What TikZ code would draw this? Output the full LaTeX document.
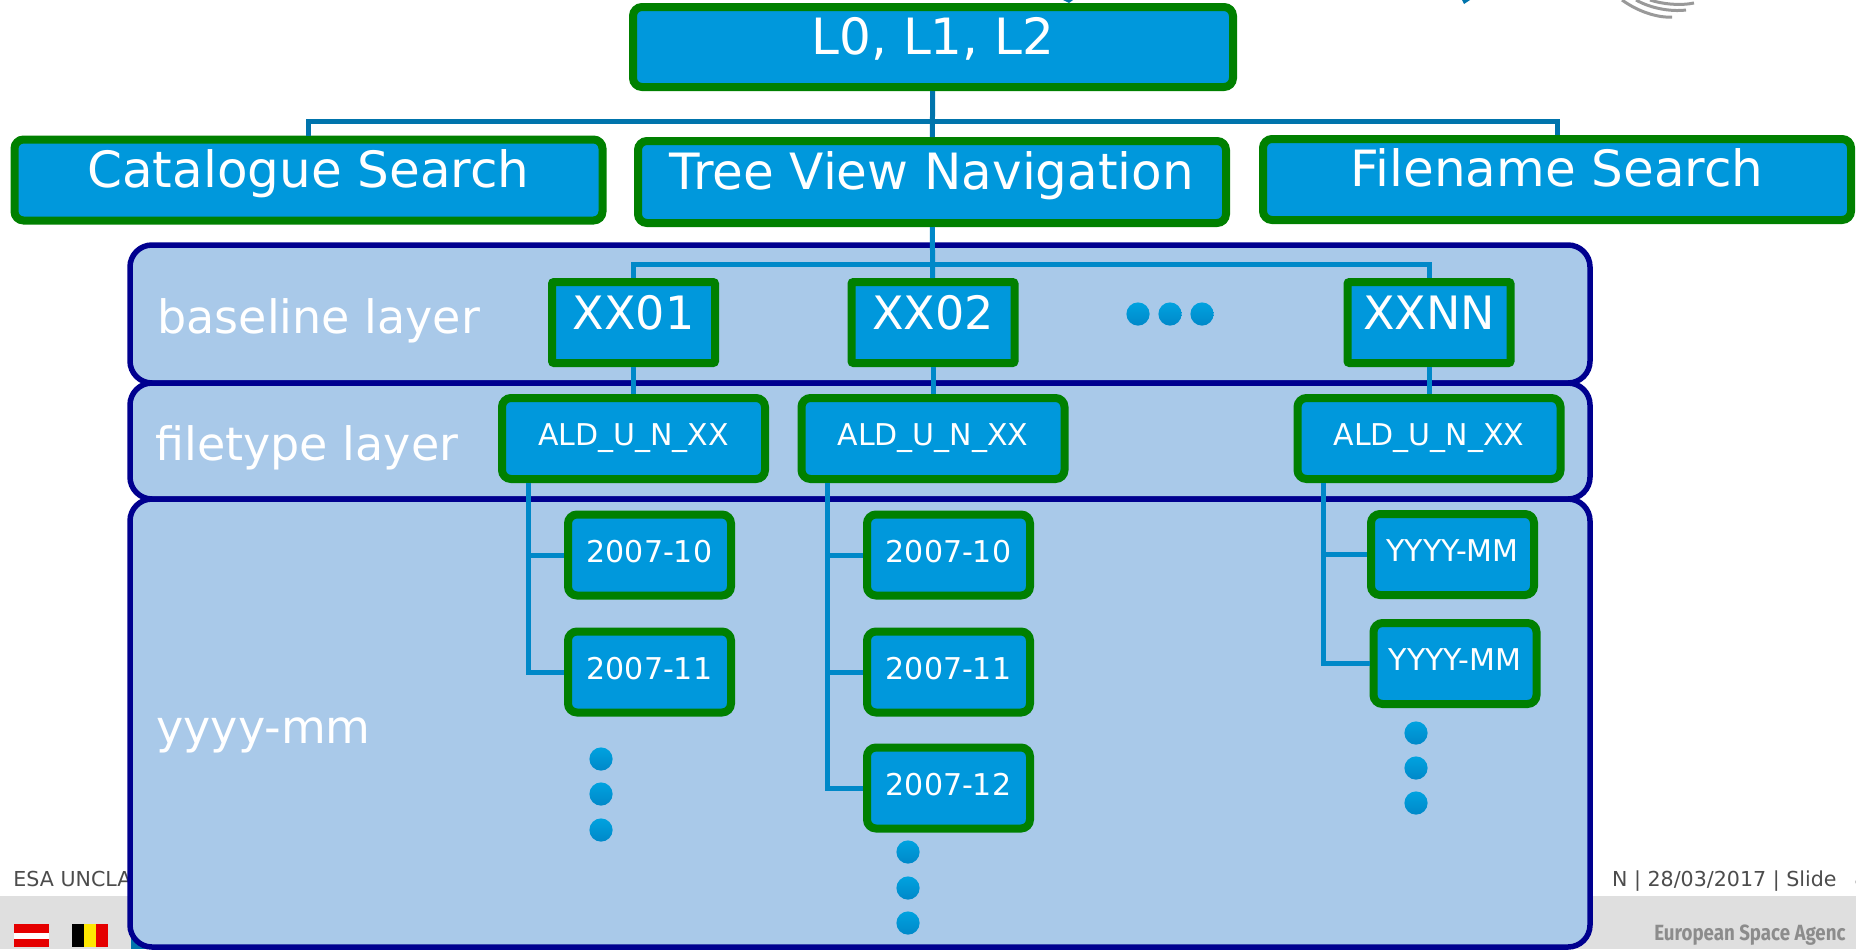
\documentclass[tikz,border=0pt]{standalone}
\usepackage{fontspec}
\setmainfont{DejaVu Sans}
\newfontfamily\agencyfont[FakeStretch=0.85]{Fira Sans}
\usetikzlibrary{shadows,positioning}
\definecolor{boxblue}{HTML}{0098DC}
\definecolor{boxgreen}{HTML}{008000}
\definecolor{layerblue}{HTML}{A9C9E9}
\definecolor{layerline}{HTML}{00008F}
\definecolor{linkdark}{HTML}{0074AC}
\definecolor{linkblue}{HTML}{0088C8}
\definecolor{footgrey}{HTML}{DFDFDF}
\begin{document}
\begin{tikzpicture}[x=0.5pt,y=-0.5pt,
        box/.style={draw=boxgreen,line width=4pt,fill=boxblue,text=white,rounded corners=4.5pt,inner sep=0pt,
        text height=0.73em,text depth=0pt,drop shadow={shadow xshift=1pt,shadow yshift=-1.5pt,opacity=.3,fill=black}},
        topbox/.style={box,minimum width=294pt,minimum height=40.5pt,font=\fontsize{25}{25}\selectfont},
        codebox/.style={box,rounded corners=1pt,minimum width=81.5pt,minimum height=40.5pt,font=\fontsize{23}{23}\selectfont},
        typebox/.style={box,minimum width=131.5pt,minimum height=40.5pt,font=\fontsize{15}{15}\selectfont},
        datebox/.style={box,minimum width=81.5pt,minimum height=40.5pt,font=\fontsize{15}{15}\selectfont},
        layerbox/.style={draw=layerline,line width=2.75pt,fill=layerblue,rounded corners=11pt,inner sep=0pt,minimum width=730pt},
        layertext/.style={anchor=base west,text=white,inner sep=0pt,font=\fontsize{23}{23}\selectfont},
        foottext/.style={text=black!70,inner sep=0pt,font=\fontsize{10.3}{10.3}\selectfont},
        link/.style={draw=linkblue,line width=2.5pt},
        toplink/.style={draw=linkdark,line width=2.5pt},
        dotmark/.style={circle,inner sep=0pt,minimum size=11.6pt,top color=boxblue!90!cyan,bottom color=linkblue}]

        \clip (0,0) rectangle (1856,949);
        % Slide footer
        \fill[footgrey] (0,896) rectangle (1856,949);
        \node[foottext,anchor=base west] (esa) at (13,886) {ESA UNCLA};
        \node[foottext,anchor=base east] (slide) at (1837,886) {N | 28/03/2017 | Slide};
        \node[foottext,anchor=base west] (slidenum) at (1854,886) {8};
        \node[anchor=base west,inner sep=0pt,text=black!45,font=\agencyfont\bfseries\fontsize{11}{11}\selectfont] (agency) at (1654,940) {European Space Agenc};
        % Flags
        \fill[red!90!black] (14,924) rectangle (49,947);
        \fill[white] (14,933) rectangle (49,939);
        \fill[black] (72,924) rectangle (84,947);
        \fill[yellow!90!orange] (84,924) rectangle (96,947);
        \fill[red!90!black] (96,924) rectangle (108,947);
        \fill[linkdark] (131,924) rectangle (166,949);
        % Logo pieces
        \fill[linkdark] (1063,0) -- (1073,0) -- (1069,3) -- cycle;
        \fill[linkdark] (1462,0) -- (1470,0) -- (1464,4) -- cycle;
        \draw[black!40,line width=1.5pt] (1622,0) .. controls (1640,13) and (1660,18) .. (1672,17);
        \draw[black!40,line width=1.5pt] (1636,0) .. controls (1650,8) and (1670,12) .. (1686,10);
        \draw[black!40,line width=1.5pt] (1650,0) .. controls (1662,4) and (1680,6) .. (1694,3);

        % Layers
        \node[layerbox,minimum height=69pt] (base) at (860,314) {};
        \node[layerbox,minimum height=58pt] (types) at (860,441) {};
        \node[layerbox,minimum height=224pt] (months) at (860,723) {};
        \node[layertext] (basetext) at (157,333) {baseline layer};
        \node[layertext] (typestext) at (155,460) {filetype layer};
        \node[layertext] (monthstext) at (156,743) {yyyy-mm};

        % Top boxes
        \node[topbox,minimum width=300pt,minimum height=40pt] (levels) at (933,47) {L0, L1, L2};
        \node[topbox] (catalogue) at (308.5,180) {Catalogue Search};
        \node[topbox,minimum height=41pt] (tree) at (932,182) {Tree View Navigation};
        \node[topbox] (filename) at (1557,179.5) {Filename Search};

        % Baselines
        \node[codebox] (xx1) at (633.5,322.5) {XX01};
        \node[codebox] (xx2) at (933,322.5) {XX02};
        \node[codebox] (xxn) at (1429,322.5) {XXNN};
        % Filetypes
        \node[typebox] (ald1) at (633.5,438.5) {ALD\_U\_N\_XX};
        \node[typebox] (ald2) at (933,438.5) {ALD\_U\_N\_XX};
        \node[typebox] (ald3) at (1429,438.5) {ALD\_U\_N\_XX};
        % Months
        \node[datebox] (d11) at (649.5,555) {2007-10};
        \node[datebox] (d12) at (649.5,672) {2007-11};
        \node[datebox] (d21) at (948.5,555) {2007-10};
        \node[datebox] (d22) at (948.5,672) {2007-11};
        \node[datebox] (d23) at (948.5,788) {2007-12};
        \node[datebox] (d31) at (1452.5,554.5) {YYYY-MM};
        \node[datebox] (d32) at (1455,663.5) {YYYY-MM};

        % Dots
        \node[dotmark] (h1) at (1138,314) {};
        \node[dotmark] (h2) at (1170,314) {};
        \node[dotmark] (h3) at (1202,314) {};
        \foreach \dx/\dy/\dname in {601/759/a,601/794/b,601/830/c,908/852/d,908/888/e,908/923/f,1416/733/g,1416/768/h,1416/803/i}
          \node[dotmark] (v\dname) at (\dx,\dy) {};

        % Links
        \coordinate (bus1) at (933,121);
        \coordinate (bus2) at (933,264);
        \draw[toplink] (levels) -- (tree);
        \draw[toplink] (catalogue.north) |- (bus1) -| (filename.north);
        \draw[link] (tree) -- (xx2);
        \draw[link] (xx1.north) |- (bus2) -| (xxn.north);
        \draw[link] (xx1) -- (ald1);
        \draw[link] (xx2) -- (ald2);
        \draw[link] (xxn) -- (ald3);

        \coordinate (trunk1) at (528,483);
        \coordinate (trunk2) at (827,483);
        \coordinate (trunk3) at (1323,483);
        \draw[link] (trunk1) |- (d11.west) (trunk1) |- (d12.west);
        \draw[link] (trunk2) |- (d21.west) (trunk2) |- (d22.west) (trunk2) |- (d23.west);
        \draw[link] (trunk3) |- (d31.west) (trunk3) |- (d32.west);
    \end{tikzpicture}
\end{document}
